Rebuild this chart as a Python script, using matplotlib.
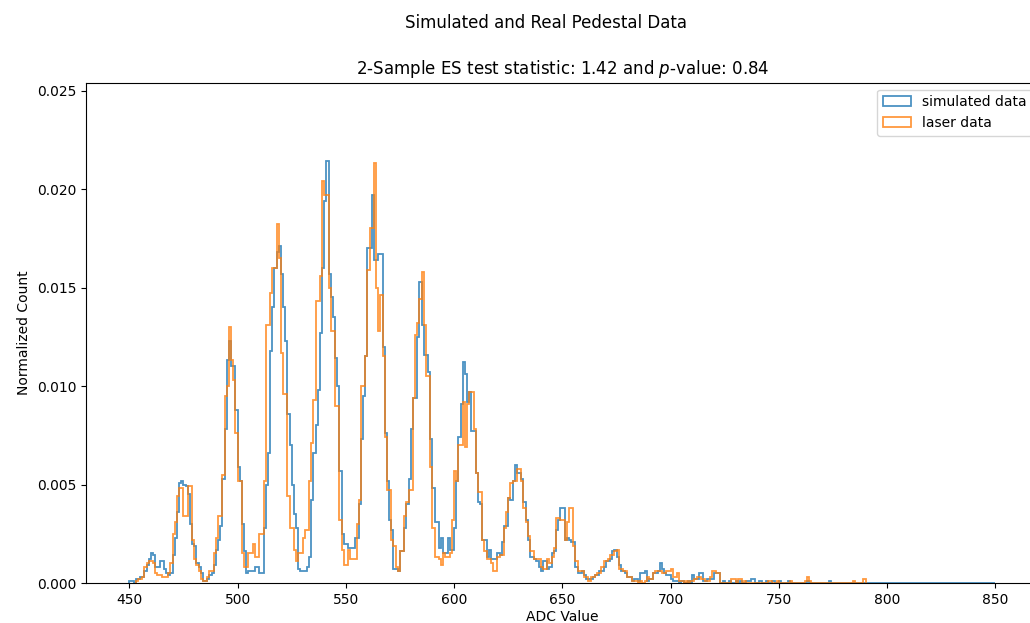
import matplotlib
matplotlib.use("Agg")
import matplotlib.pyplot as plt
import numpy as np

# simulated pedestal, normalized counts per ADC bin, starting at ADC 450
sim_start = 450
sim_counts = [
    0.0001, 0.0001, 0.0000, 0.0002, 0.0002, 0.0003, 0.0003, 0.0006, 0.0009, 0.0012,  # 450
    0.0015, 0.0014, 0.0008, 0.0008, 0.0011, 0.0011, 0.0007, 0.0005, 0.0004, 0.0005,  # 460
    0.0014, 0.0023, 0.0036, 0.0051, 0.0052, 0.0050, 0.0049, 0.0045, 0.0030, 0.0020,  # 470
    0.0019, 0.0010, 0.0008, 0.0005, 0.0001, 0.0001, 0.0002, 0.0004, 0.0005, 0.0009,  # 480
    0.0017, 0.0022, 0.0029, 0.0053, 0.0078, 0.0113, 0.0123, 0.0110, 0.0110, 0.0088,  # 490
    0.0059, 0.0052, 0.0030, 0.0016, 0.0005, 0.0006, 0.0006, 0.0006, 0.0008, 0.0008,  # 500
    0.0005, 0.0005, 0.0028, 0.0050, 0.0066, 0.0118, 0.0140, 0.0160, 0.0168, 0.0171,  # 510
    0.0157, 0.0140, 0.0123, 0.0086, 0.0070, 0.0050, 0.0035, 0.0028, 0.0007, 0.0006,  # 520
    0.0006, 0.0006, 0.0008, 0.0013, 0.0042, 0.0066, 0.0080, 0.0098, 0.0127, 0.0160,  # 530
    0.0194, 0.0214, 0.0157, 0.0145, 0.0135, 0.0114, 0.0100, 0.0057, 0.0025, 0.0020,  # 540
    0.0020, 0.0018, 0.0018, 0.0018, 0.0023, 0.0023, 0.0040, 0.0073, 0.0095, 0.0115,  # 550
    0.0170, 0.0170, 0.0197, 0.0164, 0.0164, 0.0167, 0.0167, 0.0120, 0.0076, 0.0052,  # 560
    0.0032, 0.0027, 0.0007, 0.0007, 0.0006, 0.0016, 0.0016, 0.0028, 0.0040, 0.0053,  # 570
    0.0078, 0.0094, 0.0094, 0.0125, 0.0153, 0.0131, 0.0116, 0.0116, 0.0107, 0.0073,  # 580
    0.0048, 0.0031, 0.0031, 0.0018, 0.0023, 0.0015, 0.0015, 0.0023, 0.0017, 0.0017,  # 590
    0.0028, 0.0052, 0.0074, 0.0091, 0.0112, 0.0106, 0.0092, 0.0097, 0.0077, 0.0077,  # 600
    0.0056, 0.0041, 0.0040, 0.0022, 0.0022, 0.0013, 0.0017, 0.0012, 0.0012, 0.0012,  # 610
    0.0015, 0.0014, 0.0021, 0.0029, 0.0029, 0.0043, 0.0042, 0.0052, 0.0060, 0.0056,  # 620
    0.0056, 0.0053, 0.0041, 0.0032, 0.0022, 0.0013, 0.0013, 0.0012, 0.0011, 0.0008,  # 630
    0.0006, 0.0011, 0.0011, 0.0007, 0.0008, 0.0015, 0.0016, 0.0027, 0.0032, 0.0038,  # 640
    0.0038, 0.0022, 0.0023, 0.0022, 0.0021, 0.0021, 0.0008, 0.0005, 0.0005, 0.0006,  # 650
    0.0004, 0.0002, 0.0002, 0.0002, 0.0003, 0.0004, 0.0004, 0.0006, 0.0006, 0.0008,  # 660
    0.0011, 0.0011, 0.0012, 0.0016, 0.0017, 0.0013, 0.0009, 0.0006, 0.0006, 0.0005,  # 670
    0.0003, 0.0003, 0.0001, 0.0002, 0.0002, 0.0001, 0.0005, 0.0005, 0.0006, 0.0001,  # 680
    0.0002, 0.0002, 0.0005, 0.0005, 0.0006, 0.0010, 0.0007, 0.0005, 0.0004, 0.0004,  # 690
    0.0002, 0.0001, 0.0001, 0.0001, 0.0000, 0.0001, 0.0000, 0.0000, 0.0001, 0.0000,  # 700
    0.0004, 0.0002, 0.0002, 0.0005, 0.0005, 0.0001, 0.0001, 0.0002, 0.0002, 0.0002,  # 710
    0.0005, 0.0005, 0.0005, 0.0000, 0.0001, 0.0000, 0.0000, 0.0001, 0.0000, 0.0000,  # 720
    0.0001, 0.0000, 0.0001, 0.0000, 0.0000, 0.0001, 0.0001, 0.0002, 0.0002, 0.0000,  # 730
    0.0000, 0.0001, 0.0000, 0.0000, 0.0001, 0.0000, 0.0000, 0.0001, 0.0000, 0.0000,  # 740
    0.0001, 0.0000, 0.0000, 0.0000, 0.0001, 0.0000, 0.0000, 0.0000, 0.0000, 0.0000,  # 750
    0.0000, 0.0000, 0.0000, 0.0001, 0.0000, 0.0000, 0.0000, 0.0000, 0.0000, 0.0000,  # 760
    0.0000, 0.0000, 0.0000, 0.0001, 0.0000, 0.0000, 0.0000, 0.0000, 0.0000, 0.0000,  # 770
    0, 0, 0, 0, 0, 0, 0, 0, 0, 0,  # 780
    0, 0, 0, 0, 0, 0, 0, 0, 0, 0,  # 790
    0, 0, 0, 0, 0, 0, 0, 0, 0, 0,  # 800
    0, 0, 0, 0, 0, 0, 0, 0, 0, 0,  # 810
    0, 0, 0, 0, 0, 0, 0, 0, 0, 0,  # 820
    0, 0, 0, 0, 0, 0, 0, 0, 0, 0,  # 830
    0, 0, 0, 0, 0, 0, 0, 0, 0, 0,  # 840
]

# laser pedestal data, starting at ADC 453
laser_start = 453
laser_counts = [
    0.0001, 0.0002, 0.0002, 0.0003, 0.0008, 0.0010, 0.0011,  # 453
    0.0011, 0.0010, 0.0005, 0.0004, 0.0004, 0.0003, 0.0003, 0.0003, 0.0005, 0.0010,  # 460
    0.0025, 0.0031, 0.0044, 0.0048, 0.0048, 0.0034, 0.0034, 0.0049, 0.0049, 0.0022,  # 470
    0.0012, 0.0009, 0.0006, 0.0002, 0.0001, 0.0001, 0.0003, 0.0006, 0.0006, 0.0015,  # 480
    0.0023, 0.0034, 0.0034, 0.0055, 0.0095, 0.0100, 0.0130, 0.0113, 0.0103, 0.0076,  # 490
    0.0052, 0.0052, 0.0015, 0.0008, 0.0008, 0.0015, 0.0015, 0.0020, 0.0013, 0.0013,  # 500
    0.0025, 0.0025, 0.0052, 0.0131, 0.0131, 0.0147, 0.0160, 0.0160, 0.0182, 0.0165,  # 510
    0.0117, 0.0096, 0.0096, 0.0044, 0.0028, 0.0028, 0.0017, 0.0011, 0.0015, 0.0015,  # 520
    0.0023, 0.0027, 0.0027, 0.0052, 0.0071, 0.0093, 0.0143, 0.0143, 0.0156, 0.0204,  # 530
    0.0197, 0.0197, 0.0150, 0.0128, 0.0128, 0.0090, 0.0090, 0.0032, 0.0017, 0.0009,  # 540
    0.0009, 0.0017, 0.0012, 0.0012, 0.0012, 0.0030, 0.0042, 0.0100, 0.0100, 0.0115,  # 550
    0.0159, 0.0180, 0.0180, 0.0213, 0.0150, 0.0128, 0.0146, 0.0115, 0.0074, 0.0047,  # 560
    0.0047, 0.0022, 0.0019, 0.0008, 0.0006, 0.0016, 0.0016, 0.0034, 0.0041, 0.0047,  # 570
    0.0047, 0.0094, 0.0126, 0.0132, 0.0144, 0.0158, 0.0131, 0.0105, 0.0105, 0.0059,  # 580
    0.0028, 0.0013, 0.0013, 0.0012, 0.0009, 0.0015, 0.0013, 0.0013, 0.0015, 0.0032,  # 590
    0.0057, 0.0052, 0.0070, 0.0070, 0.0092, 0.0069, 0.0091, 0.0097, 0.0097, 0.0078,  # 600
    0.0056, 0.0046, 0.0046, 0.0022, 0.0016, 0.0012, 0.0012, 0.0010, 0.0006, 0.0006,  # 610
    0.0013, 0.0014, 0.0014, 0.0028, 0.0036, 0.0043, 0.0051, 0.0052, 0.0052, 0.0058,  # 620
    0.0058, 0.0052, 0.0038, 0.0031, 0.0024, 0.0016, 0.0016, 0.0012, 0.0012, 0.0012,  # 630
    0.0008, 0.0007, 0.0007, 0.0012, 0.0010, 0.0013, 0.0018, 0.0033, 0.0033, 0.0032,  # 640
    0.0032, 0.0022, 0.0031, 0.0038, 0.0038, 0.0019, 0.0011, 0.0006, 0.0006, 0.0006,  # 650
    0.0003, 0.0003, 0.0001, 0.0003, 0.0003, 0.0004, 0.0005, 0.0005, 0.0008, 0.0011,  # 660
    0.0011, 0.0012, 0.0014, 0.0014, 0.0016, 0.0017, 0.0007, 0.0007, 0.0006, 0.0006,  # 670
    0.0003, 0.0003, 0.0001, 0.0001, 0.0001, 0.0000, 0.0001, 0.0000, 0.0001, 0.0003,  # 680
    0.0002, 0.0002, 0.0005, 0.0006, 0.0006, 0.0006, 0.0005, 0.0005, 0.0006, 0.0006,  # 690
    0.0007, 0.0003, 0.0003, 0.0005, 0.0001, 0.0001, 0.0000, 0.0001, 0.0000, 0.0001,  # 700
    0.0001, 0.0002, 0.0003, 0.0003, 0.0002, 0.0002, 0.0001, 0.0001, 0.0003, 0.0006,  # 710
    0.0006, 0.0005, 0.0005, 0.0000, 0.0000, 0.0000, 0.0000, 0.0000, 0.0002, 0.0002,  # 720
    0.0000, 0.0002, 0.0002, 0.0000, 0.0001, 0.0000, 0.0000, 0.0000, 0.0000, 0.0000,  # 730
    0.0000, 0.0000, 0.0000, 0.0000, 0.0000, 0.0001, 0.0001, 0.0000, 0.0000, 0.0001,  # 740
    0.0000, 0.0000, 0.0000, 0.0000, 0.0000, 0.0001, 0.0000, 0.0000, 0.0000, 0.0000,  # 750
    0.0000, 0.0000, 0.0001, 0.0003, 0.0001, 0.0000, 0.0000, 0.0000, 0.0000, 0.0000,  # 760
    0, 0, 0, 0, 0, 0, 0, 0, 0, 0,  # 770
    0, 0, 0, 0, 0.0001, 0, 0, 0, 0, 0.0002,  # 780
]

sim_edges = sim_start + np.arange(len(sim_counts) + 1)
laser_edges = laser_start + np.arange(len(laser_counts) + 1)

fig = plt.figure(figsize=(10.3, 6.23), dpi=100)
ax = fig.add_axes([0.0835, 0.0642, 0.925, 0.8031])

ax.hist(sim_edges[:-1], bins=sim_edges, weights=sim_counts, histtype="step",
        alpha=0.8, linewidth=1.3, label="simulated data")
ax.hist(laser_edges[:-1], bins=laser_edges, weights=laser_counts, histtype="step",
        alpha=0.8, linewidth=1.3, label="laser data")

ax.set_ylim(0, 0.0254)
ax.set_xlabel("ADC Value", labelpad=2)
ax.set_ylabel("Normalized Count")
ax.set_title("2-Sample ES test statistic: 1.42 and $p$-value: 0.84")
fig.suptitle("Simulated and Real Pedestal Data", x=0.530, y=0.977)
ax.legend(loc="upper right")

fig.savefig("out.png", dpi=100)
